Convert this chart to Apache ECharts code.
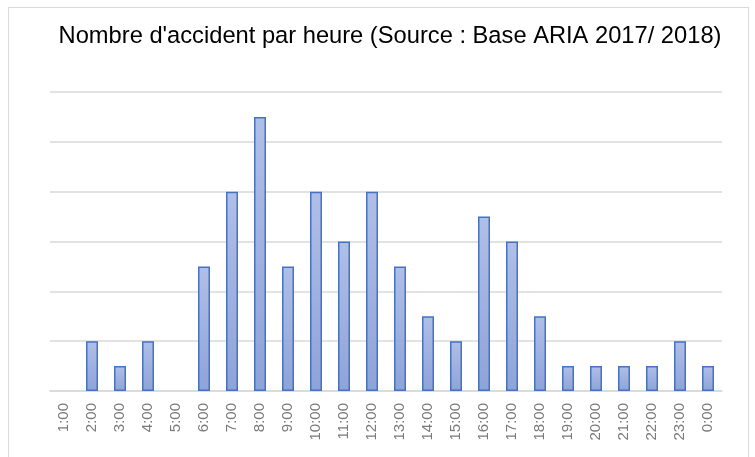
<!DOCTYPE html>
<html>
<head>
<meta charset="utf-8">
<script src="https://cdn.jsdelivr.net/npm/echarts@6/dist/echarts.min.js"></script>
<style>
html,body{margin:0;padding:0;background:#fff;}
#frame{position:absolute;left:8px;top:7px;width:741px;height:460px;border:1px solid #d9d9d9;box-sizing:border-box;}
#chart{position:absolute;left:0;top:0;width:755px;height:457px;}
</style>
</head>
<body>
<div id="frame"></div>
<div id="chart"></div>
<script>
const titleText = "Nombre d'accident par heure (Source : Base ARIA 2017/ 2018)";
const hours = ["1:00","2:00","3:00","4:00","5:00","6:00","7:00","8:00","9:00","10:00","11:00","12:00","13:00","14:00","15:00","16:00","17:00","18:00","19:00","20:00","21:00","22:00","23:00","0:00"];
const accidents = [0,2,1,2,0,5,8,11,5,8,6,8,5,3,2,7,6,3,1,1,1,1,2,1];

const chart = echarts.init(document.getElementById('chart'), null, {renderer:'canvas'});
chart.setOption({
  animation:false,
  title:{
    text:titleText, left:385, top:19, textAlign:'center',
    textStyle:{fontFamily:'Liberation Sans, Arial', fontSize:23.7, fontWeight:'normal', color:'#000'}
  },
  grid:{left:50, right:33, top:92, bottom:66, containLabel:false},
  xAxis:{
    type:'category', data:hours,
    axisLine:{show:true, lineStyle:{color:'#d9d9d9', width:1.5}},
    axisTick:{show:false},
    axisLabel:{rotate:90, color:'#7a7a7a', fontFamily:'Liberation Sans, Arial', fontSize:15, margin:12, interval:0}
  },
  yAxis:{
    type:'value', min:0, max:12, interval:2,
    axisLabel:{show:false}, axisLine:{show:false}, axisTick:{show:false},
    splitLine:{lineStyle:{color:'#d9d9d9', width:1.5}}
  },
  series:[{
    type:'bar', data:accidents.map(v => v === 0 ? null : v), barWidth:12,
    itemStyle:{
      color:new echarts.graphic.LinearGradient(0,0,0,1,[{offset:0,color:'#b0bfe6'},{offset:1,color:'#8ea3d8'}]),
      borderColor:'#4472c4', borderWidth:1.5
    }
  }]
});
</script>
</body>
</html>
